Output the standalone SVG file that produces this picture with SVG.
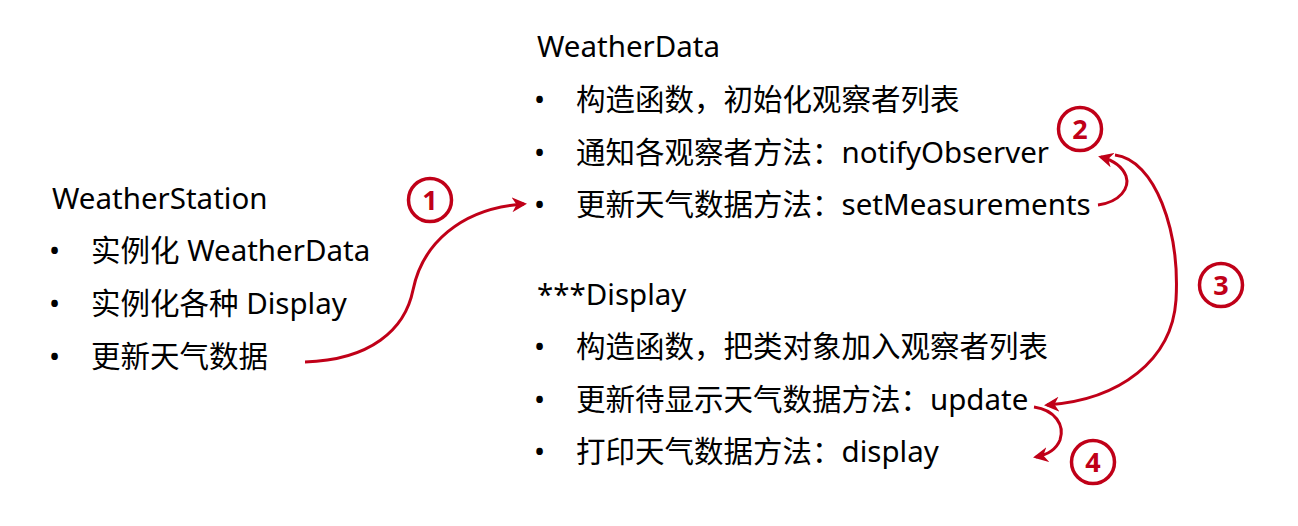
<svg xmlns="http://www.w3.org/2000/svg" width="1298" height="526" viewBox="0 0 1298 526">
<style>
text{font-family:"Noto Sans","Noto Sans CJK SC",sans-serif;font-size:29.5px;fill:#000}
.n{font-family:"Noto Sans","Noto Sans CJK SC",sans-serif;font-size:27px;font-weight:bold;fill:#C00018;text-anchor:middle}
.c{fill:none;stroke:#C00018;stroke-width:3.5}
.a{fill:none;stroke:#C00018;stroke-width:3}
</style>
<defs>
<marker id="ah" viewBox="0 0 10 10" refX="8" refY="5" markerWidth="5" markerHeight="5" orient="auto" markerUnits="strokeWidth">
<path d="M0,0 L10,5 L0,10 L3,5 z" fill="#C00018"/>
</marker>
</defs>
<rect width="1298" height="526" fill="#fff"/>
<g id="weatherstation">
<text x="52" y="209">WeatherStation</text>
<text x="49" y="261">•</text><text x="91" y="261">实例化 WeatherData</text>
<text x="49" y="314">•</text><text x="91" y="314">实例化各种 Display</text>
<text x="49" y="367">•</text><text x="91" y="367">更新天气数据</text>
</g>
<g id="weatherdata">
<text x="537" y="57">WeatherData</text>
<text x="534" y="110">•</text><text x="576" y="110">构造函数，初始化观察者列表</text>
<text x="534" y="163">•</text><text x="576" y="163">通知各观察者方法：notifyObserver</text>
<text x="534" y="215">•</text><text x="576" y="215">更新天气数据方法：setMeasurements</text>
</g>
<g id="display">
<text x="537" y="305">***Display</text>
<text x="534" y="357">•</text><text x="576" y="357">构造函数，把类对象加入观察者列表</text>
<text x="534" y="410">•</text><text x="576" y="410">更新待显示天气数据方法：update</text>
<text x="534" y="462">•</text><text x="576" y="462">打印天气数据方法：display</text>
</g>
<g id="labels">
<circle class="c" cx="430" cy="200" r="21.5"/><text class="n" x="430" y="210">1</text>
<circle class="c" cx="1080" cy="129" r="21.5"/><text class="n" x="1080" y="139">2</text>
<circle class="c" cx="1221" cy="285" r="21.5"/><text class="n" x="1221" y="295">3</text>
<circle class="c" cx="1093" cy="462" r="21.5"/><text class="n" x="1093" y="472">4</text>
</g>
<g id="connectors">
<path class="a" marker-end="url(#ah)" d="M305,362 C370,360 405,330 413,290 C422,245 460,208 524,204"/>
<path class="a" marker-end="url(#ah)" d="M1098,205 C1120,202 1130,188 1126,176 C1122,166 1112,160 1101,157"/>
<path class="a" marker-end="url(#ah)" d="M1115,155 C1155,160 1180,230 1176,300 C1172,360 1120,400 1047,405"/>
<path class="a" marker-end="url(#ah)" d="M1034,407 C1055,410 1065,425 1060,440 C1056,450 1046,455 1036,457"/>
</g>
</svg>
